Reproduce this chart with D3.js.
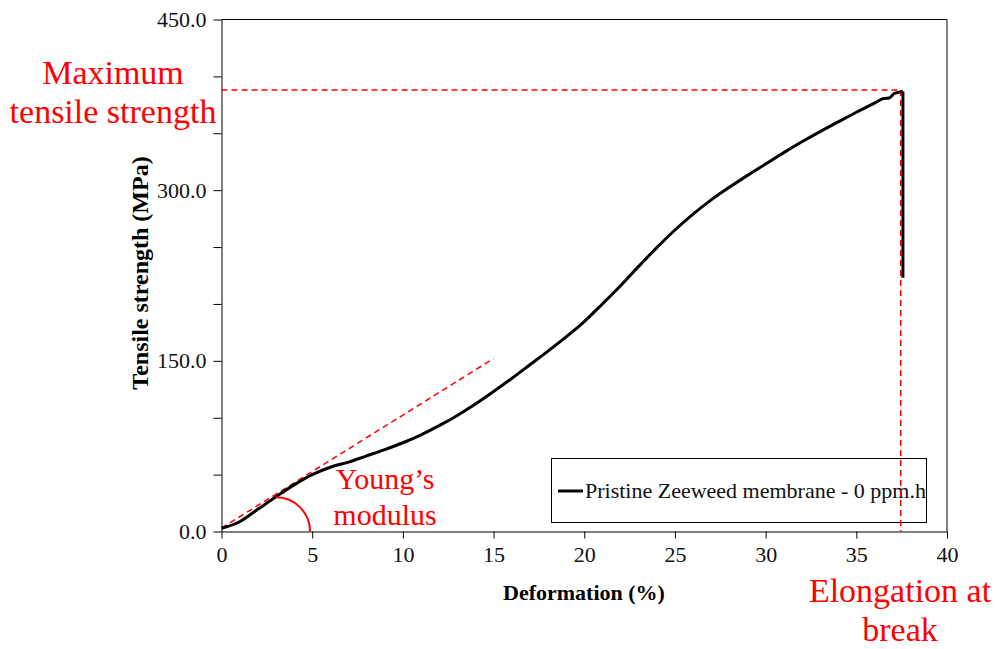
<!DOCTYPE html>
<html><head><meta charset="utf-8">
<script src="https://cdn.jsdelivr.net/npm/d3@7"></script>
</head><body style="margin:0;background:#fff"><svg id="c" width="997" height="649" font-family="Liberation Serif"></svg>
<script>
// Data
const deformation = [0, 1, 2, 3, 4, 5, 6, 7, 8, 9, 10, 11, 12, 13, 14, 15, 16, 17, 18, 19, 20, 21, 22, 23, 24, 25, 26, 27, 28, 29, 30, 31, 32, 33, 34, 35, 36, 36.5, 36.8, 37.1, 37.57];
const strength    = [2.8, 8.6, 19.5, 30.5, 41, 50, 56.5, 61, 66.5, 72, 78, 85, 93, 102, 112, 123, 134.5, 146.5, 158.5, 171, 184.5, 200, 216, 233, 249.5, 265, 279, 291.5, 302.5, 313, 323, 333, 342.5, 351.5, 360, 368.5, 376.5, 380.5, 381, 385, 386.8];
const breakDrop   = [[37.57, 386.8], [37.57, 223]];
const youngLine   = [[0, 3], [15, 152]];
const maxStrength = 388;
const elongation  = 37.45;
const xTicks = [0, 5, 10, 15, 20, 25, 30, 35, 40];
const yTicks = [0, 50, 100, 150, 200, 250, 300, 350, 400, 450];
const yLabels = [0, 150, 300, 450];
const seriesName = "Pristine Zeeweed membrane - 0 ppm.h";

const FONT = "Liberation Serif";
const svg = d3.select("#c");
const x = d3.scaleLinear().domain([0, 40]).range([221.5, 947]);
const y = d3.scaleLinear().domain([0, 450]).range([531.5, 19.5]);
const red = "#ff0000";

// frame
svg.append("line").attr("x1", x(0)).attr("x2", x(40)).attr("y1", y(450)).attr("y2", y(450)).attr("stroke", "#000");
svg.append("line").attr("x1", x(40)).attr("x2", x(40)).attr("y1", y(450)).attr("y2", y(0)).attr("stroke", "#000");

// axes
const xAxis = svg.append("g").attr("transform", `translate(0,${y(0)})`)
  .call(d3.axisBottom(x).tickValues(xTicks).tickSize(7).tickPadding(8).tickSizeOuter(0).tickFormat(d3.format("d")));
const yAxis = svg.append("g").attr("transform", `translate(${x(0)},0)`)
  .call(d3.axisLeft(y).tickValues(yTicks).tickSize(8).tickPadding(7).tickSizeOuter(0)
    .tickFormat(d => yLabels.includes(d) ? d3.format(".1f")(d) : ""));
[xAxis, yAxis].forEach(g => {
  g.attr("font-family", FONT).attr("font-size", 22);
  g.select(".domain").attr("stroke", "#000");
  g.selectAll(".tick line").attr("stroke", "#000");
  g.selectAll("text").attr("font-size", 22).attr("fill", "#111").attr("font-family", FONT);
});

// axis titles
svg.append("text").attr("x", 584).attr("y", 600).attr("text-anchor", "middle").attr("font-family", FONT)
  .attr("font-size", 22).attr("font-weight", "bold").text("Deformation (%)");
svg.append("text").attr("transform", "translate(148,273) rotate(-90)").attr("text-anchor", "middle").attr("font-family", FONT)
  .attr("font-size", 24).attr("font-weight", "bold").text("Tensile strength (MPa)");

// red annotation lines
const dash = "6,4";
svg.append("line").attr("x1", x(0)).attr("x2", x(elongation)).attr("y1", y(maxStrength)).attr("y2", y(maxStrength))
  .attr("stroke", red).attr("stroke-width", 1.5).attr("stroke-dasharray", dash);
svg.append("path").attr("d", d3.line().x(d => x(d[0])).y(d => y(d[1]))(youngLine))
  .attr("fill", "none").attr("stroke", red).attr("stroke-width", 1.5).attr("stroke-dasharray", dash);

// legend
svg.append("rect").attr("x", 551.5).attr("y", 458.5).attr("width", 375).attr("height", 64)
  .attr("fill", "#fff").attr("stroke", "#000");
svg.append("line").attr("x1", 558).attr("x2", 583).attr("y1", 491).attr("y2", 491).attr("stroke", "#000").attr("stroke-width", 3);
svg.append("text").attr("x", 585).attr("y", 498).attr("font-family", FONT).attr("font-size", 22).attr("fill", "#111").text(seriesName);

// vertical elongation line (drawn over the legend as in the reference)
svg.append("line").attr("x1", x(elongation)).attr("x2", x(elongation)).attr("y1", y(maxStrength)).attr("y2", y(0))
  .attr("stroke", red).attr("stroke-width", 1.5).attr("stroke-dasharray", dash);

// curve
const pts = deformation.map((d, i) => [d, strength[i]]);
svg.append("path").attr("d", d3.line().x(d => x(d[0])).y(d => y(d[1])).curve(d3.curveMonotoneX)(pts))
  .attr("fill", "none").attr("stroke", "#000").attr("stroke-width", 3).attr("stroke-linejoin", "round");
svg.append("path").attr("d", d3.line().x(d => x(d[0])).y(d => y(d[1]))(breakDrop))
  .attr("fill", "none").attr("stroke", "#000").attr("stroke-width", 3);

// Young's modulus arc
const r = y(0) - y(30);
const p = d3.path();
p.arc(x(3), y(0), r, -Math.PI / 2, 0);
svg.append("path").attr("d", p.toString()).attr("fill", "none").attr("stroke", red).attr("stroke-width", 2);

// annotation texts
function label(lines, cx, y0, dy, size) {
  const t = svg.append("text").attr("text-anchor", "middle").attr("font-family", FONT).attr("font-size", size).attr("fill", red);
  lines.forEach((s, i) => t.append("tspan").attr("x", cx).attr("y", y0 + i * dy).text(s));
}
label(["Maximum", "tensile strength"], 113, 83.5, 39, 34);
label(["Young\u2019s", "modulus"], 385, 489, 36, 30);
label(["Elongation at", "break"], 900, 601.5, 39.5, 34);
</script></body></html>
